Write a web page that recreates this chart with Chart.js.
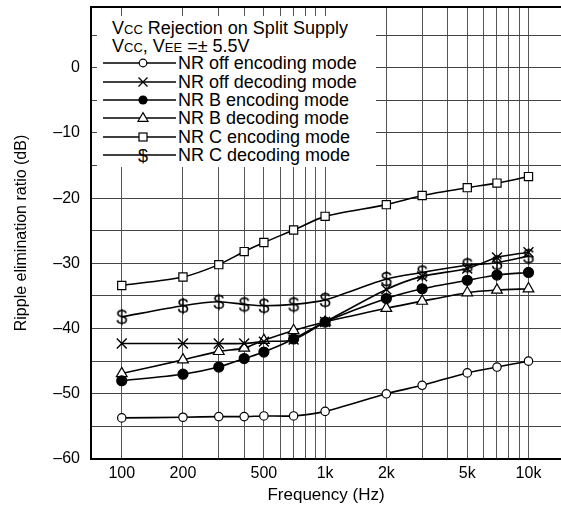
<!DOCTYPE html>
<html><head><meta charset="utf-8">
<script src="https://cdn.jsdelivr.net/npm/chart.js@4"></script>
<style>
html,body{margin:0;padding:0;background:#fff;}
#wrap{position:relative;width:561px;height:514px;overflow:hidden;}
canvas{display:block;}
#legend{position:absolute;left:97px;top:16px;width:279px;height:151px;background:#fff;}
.t{position:absolute;white-space:nowrap;line-height:18px;font-family:"Liberation Sans",Arial,sans-serif;font-size:18px;color:#000;}
.sm{font-size:13px;}
.sw{position:absolute;}
</style></head>
<body>
<div id="wrap">
<canvas id="c" width="561" height="514"></canvas>
<div id="legend"></div>
</div>
<script>
// ---- data ----
const freqs = [100, 200, 300, 400, 500, 700, 1000, 2000, 3000, 5000, 7000, 10000];
const nrOffEnc = [-53.7, -53.6, -53.5, -53.5, -53.4, -53.4, -52.7, -50.0, -48.7, -46.8, -45.9, -45.0];
const nrOffDec = [-42.3, -42.3, -42.3, -42.3, -42.0, -41.7, -39.0, -34.0, -32.0, -30.8, -29.1, -28.3];
const nrBEnc   = [-48.0, -47.0, -45.9, -44.6, -43.6, -41.6, -39.0, -35.4, -33.9, -32.6, -31.8, -31.4];
const nrBDec   = [-46.9, -44.8, -43.5, -43.0, -41.8, -40.3, -39.0, -36.9, -35.8, -34.5, -34.1, -33.9];
const nrCEnc   = [-33.4, -32.1, -30.2, -28.2, -26.8, -24.9, -22.8, -21.0, -19.6, -18.4, -17.7, -16.7];
const nrCDec   = [-38.2, -36.5, -35.9, -36.3, -36.5, -36.3, -35.6, -32.4, -31.4, -30.3, -29.9, -28.9];
const seriesNames = ['NR off encoding mode','NR off decoding mode','NR B encoding mode','NR B decoding mode','NR C encoding mode','NR C decoding mode'];
const xGridValues = [100,200,300,400,500,600,700,800,900,1000,2000,3000,4000,5000,6000,7000,8000,9000,10000];
const xTickLabels = {100:'100',200:'200',500:'500',1000:'1k',2000:'2k',5000:'5k',10000:'10k'};
const yGridValues = [-60,-55,-50,-45,-40,-35,-30,-25,-20,-15,-10,-5,0,5];
const titleLine1 = 'V<span class="sm">CC</span> Rejection on Split Supply';
const titleLine2 = 'V<span class="sm">CC</span>, V<span class="sm">EE</span> =± 5.5V';

const FONT = '"Liberation Sans", Arial, sans-serif';

function dollarMarker(){
  const c = document.createElement('canvas');
  c.width = 16; c.height = 22;
  const g = c.getContext('2d');
  g.font = '20px ' + FONT;
  g.textAlign = 'center'; g.textBaseline = 'middle';
  g.fillStyle = '#000';
  g.fillText('$', 8, 12);
  return c;
}

const pts = arr => freqs.map((f,i)=>({x:f, y:arr[i]}));
const base = {borderColor:'#000', borderWidth:1.6, tension:0.25, pointBorderColor:'#000', pointBorderWidth:1.2, pointHoverRadius:0, fill:false};
const datasets = [
  Object.assign({}, base, {label:seriesNames[0], data:pts(nrOffEnc), pointStyle:'circle', pointRadius:4.2, pointBackgroundColor:'#fff'}),
  Object.assign({}, base, {label:seriesNames[1], data:pts(nrOffDec), pointStyle:'crossRot', pointRadius:7, pointBorderWidth:1.4}),
  Object.assign({}, base, {label:seriesNames[2], data:pts(nrBEnc), pointStyle:'circle', pointRadius:5, pointBackgroundColor:'#000'}),
  Object.assign({}, base, {label:seriesNames[3], data:pts(nrBDec), pointStyle:'triangle', pointRadius:6.2, pointBackgroundColor:'#fff'}),
  Object.assign({}, base, {label:seriesNames[4], data:pts(nrCEnc), pointStyle:'rect', pointRadius:5.8, pointBackgroundColor:'#fff'}),
  Object.assign({}, base, {label:seriesNames[5], data:pts(nrCDec), pointStyle:dollarMarker(), pointRadius:7}),
];

const frame = {
  id:'frame',
  afterDraw(chart){
    const {ctx, chartArea:a} = chart;
    ctx.save();
    ctx.strokeStyle = '#000'; ctx.lineWidth = 2;
    ctx.beginPath(); ctx.moveTo(a.left-1, a.top); ctx.lineTo(a.right, a.top); ctx.stroke();
    ctx.restore();
  }
};

new Chart(document.getElementById('c'), {
  type:'line',
  data:{datasets},
  plugins:[frame],
  options:{
    responsive:false, animation:false, events:[],
    layout:{autoPadding:false, padding:{top:7, right:0, left:0, bottom:0}},
    plugins:{legend:{display:false}, tooltip:{enabled:false}},
    scales:{
      x:{
        type:'logarithmic', min:70.6, max:14450,
        afterBuildTicks: s => { s.ticks = xGridValues.map(v=>({value:v})); },
        afterFit: s => { s.height = 55; s.paddingLeft = 0; s.paddingRight = 0; },
        ticks:{autoSkip:false, maxRotation:0, minRotation:0, padding:5, color:'#000', font:{family:FONT, size:16},
               callback:(v)=> xTickLabels[v] !== undefined ? xTickLabels[v] : ''},
        grid:{color:'#555', lineWidth:1, drawTicks:false},
        border:{color:'#000', width:2},
        title:{display:true, text:'Frequency (Hz)', color:'#000', font:{family:FONT, size:17}, padding:{top:2, bottom:8}}
      },
      y:{
        type:'linear', min:-60, max:9.3,
        afterBuildTicks: s => { s.ticks = yGridValues.map(v=>({value:v})); },
        afterFit: s => { s.width = 91; s.paddingTop = 0; s.paddingBottom = 0; },
        ticks:{padding:11, color:'#000', font:{family:FONT, size:16},
               callback:(v)=> (v % 10 === 0) ? (v < 0 ? '\u2013' + (-v) : String(v)) : ''},
        grid:{color:'#444', lineWidth:1, drawTicks:false},
        border:{color:'#000', width:2},
        title:{display:true, text:'Ripple elimination ratio (dB)', color:'#000', font:{family:FONT, size:16}, padding:{top:12, bottom:4}}
      }
    }
  }
});

// ---- HTML legend ----
const wrap = document.getElementById('wrap');
function addText(html, left, cy){
  const d = document.createElement('div');
  d.className = 't'; d.innerHTML = html;
  d.style.left = left + 'px'; d.style.top = (cy - 9) + 'px';
  wrap.appendChild(d);
}
addText(titleLine1, 112, 28.3);
addText(titleLine2, 112, 45.5);
const rowCY = [63.3, 81.7, 100, 118.3, 136.7, 155];
const markers = [
  '<circle cx="43" cy="9" r="3.8" fill="#fff" stroke="#000" stroke-width="1.2"/>',
  '<path d="M38.5 4.5 L47.5 13.5 M47.5 4.5 L38.5 13.5" stroke="#000" stroke-width="1.3"/>',
  '<circle cx="43" cy="9" r="4.6" fill="#000"/>',
  '<path d="M43 3.6 L48 12.3 L38 12.3 Z" fill="#fff" stroke="#000" stroke-width="1.2"/>',
  '<rect x="39" y="5" width="8" height="8" fill="#fff" stroke="#000" stroke-width="1.2"/>',
  '<text x="43" y="15.5" text-anchor="middle" font-family=\'"Liberation Sans", Arial\' font-size="18" fill="#000">$</text>'
];
seriesNames.forEach((name, i) => {
  const s = document.createElementNS('http://www.w3.org/2000/svg','svg');
  s.setAttribute('width','80'); s.setAttribute('height','18');
  s.setAttribute('class','sw');
  s.style.left = '100px'; s.style.top = (rowCY[i]-9) + 'px';
  s.innerHTML = '<line x1="3" y1="9" x2="76" y2="9" stroke="#000" stroke-width="1.6"/>' + markers[i];
  wrap.appendChild(s);
  addText(name, 178, rowCY[i]);
});
</script>
</body></html>
